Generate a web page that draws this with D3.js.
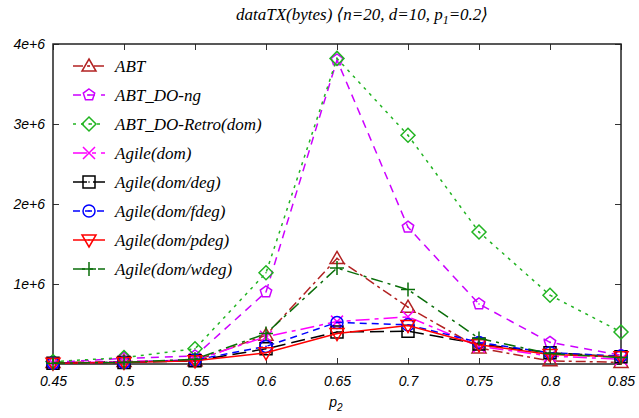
<!DOCTYPE html>
<html><head><meta charset="utf-8">
<script src="https://cdn.jsdelivr.net/npm/d3@7"></script>
<style>
body{margin:0;background:#fff;}
svg{display:block;}
.tick text{font-family:"Liberation Sans","Arimo",Helvetica,Arial,sans-serif;font-style:italic;font-size:14px;fill:#000;}
.serif{font-family:"Liberation Serif","Tinos","Times New Roman",Times,"DejaVu Serif",serif;font-style:italic;}
</style>
</head><body>
<svg id="c" width="639" height="418"></svg>
<script>
const xValues = [0.45,0.5,0.55,0.6,0.65,0.7,0.75,0.8,0.85];
const seriesNames = ["ABT","ABT_DO-ng","ABT_DO-Retro(dom)","Agile(dom)","Agile(dom/deg)","Agile(dom/fdeg)","Agile(dom/pdeg)","Agile(dom/wdeg)"];
const abt       = [20000,30000,40000,360000,1320000,710000,200000,40000,20000];
const abtDoNg   = [20000,70000,100000,900000,3800000,1710000,750000,270000,110000];
const abtRetro  = [30000,80000,190000,1140000,3820000,2860000,1650000,860000,400000];
const agileDom  = [10000,30000,50000,340000,530000,590000,220000,100000,60000];
const agileDeg  = [10000,20000,40000,190000,400000,410000,250000,140000,90000];
const agileFdeg = [10000,20000,50000,220000,520000,490000,270000,140000,100000];
const agilePdeg = [10000,20000,40000,140000,380000,480000,240000,120000,90000];
const agileWdeg = [10000,20000,60000,380000,1200000,930000,320000,130000,80000];
const yTicks = [0,1000000,2000000,3000000,4000000];
const yTickLabels = ["","1e+6","2e+6","3e+6","4e+6"];
const xTickLabels = ["0.45","0.5","0.55","0.6","0.65","0.7","0.75","0.8","0.85"];

const allValues = [abt,abtDoNg,abtRetro,agileDom,agileDeg,agileFdeg,agilePdeg,agileWdeg];
const styles = [
  {color:"#b22222", dash:"10,4,3,4", marker:"triUp"},
  {color:"#cc00ff", dash:"8,6", marker:"pent"},
  {color:"#22b422", dash:"3,5", marker:"diamond"},
  {color:"#ff00ff", dash:"14,5,4,5", marker:"cross"},
  {color:"#000000", dash:"14,6", marker:"square"},
  {color:"#0000ff", dash:"7,5", marker:"circle"},
  {color:"#ff0000", dash:null, marker:"triDown"},
  {color:"#0a6e0a", dash:"12,5,3,5", marker:"plus"}
];

const svg = d3.select("#c");
const L=53, R=621, T=44, B=364;
const x = d3.scalePoint().domain(xValues).range([L,R]);
const y = d3.scaleLinear().domain([0,4000000]).range([B,T]);

// title
const title = svg.append("text").attr("class","serif").attr("x",362).attr("y",20).attr("text-anchor","middle")
  .style("font-size","17px");
title.append("tspan").text("dataTX(bytes) \u27E8n=20, d=10, p");
title.append("tspan").attr("dy",4).style("font-size","12px").text("1");
title.append("tspan").attr("dy",-4).text("=0.2\u27E9");

// axes
const yAxis = d3.axisLeft(y).tickValues(yTicks).tickFormat((d,i)=>yTickLabels[i]).tickSize(-6).tickPadding(8);
const gy = svg.append("g").attr("transform",`translate(${L},0)`).call(yAxis);
const yAxisR = d3.axisRight(y).tickValues(yTicks).tickFormat("").tickSize(-6);
const gyr = svg.append("g").attr("transform",`translate(${R},0)`).call(yAxisR);
const xAxis = d3.axisBottom(x).tickFormat((d,i)=>xTickLabels[i]).tickSize(-6).tickPadding(12);
const gx = svg.append("g").attr("transform",`translate(0,${B})`).call(xAxis);
const xAxisT = d3.axisTop(x).tickFormat("").tickSize(-6);
const gxt = svg.append("g").attr("transform",`translate(0,${T})`).call(xAxisT);
[gy,gyr,gx,gxt].forEach(g=>{g.attr("font-family",null).select(".domain").remove(); g.selectAll(".tick line").attr("stroke","#333").attr("stroke-width",1);});
gy.selectAll(".tick text").attr("dy","0.35em");
svg.append("rect").attr("x",L).attr("y",T).attr("width",R-L).attr("height",B-T)
  .attr("fill","none").attr("stroke","#222").attr("stroke-width",1.5);

// x label
const xl = svg.append("text").attr("x",336).attr("y",407).attr("text-anchor","middle")
  .style("font-family","'Liberation Sans',Arimo,Helvetica,Arial,sans-serif").style("font-style","italic").style("font-size","14px");
xl.append("tspan").text("p");
xl.append("tspan").attr("dy",4).style("font-size","10px").text("2");

function marker(g, type, cx, cy, color){
  const s = 6;
  let d="";
  if(type==="circle"){
    g.append("circle").attr("cx",cx).attr("cy",cy).attr("r",s).attr("fill","none").attr("stroke",color).attr("stroke-width",1.5);
  } else {
    if(type==="triUp") d=`M${cx},${cy-s-1}L${cx+s+1},${cy+s-1}L${cx-s-1},${cy+s-1}Z`;
    else if(type==="triDown") d=`M${cx},${cy+s+1}L${cx+s+1},${cy-s+1}L${cx-s-1},${cy-s+1}Z`;
    else if(type==="pent"){ const pts=d3.range(5).map(i=>{const a=-Math.PI/2+i*2*Math.PI/5;return [cx+s*Math.cos(a),cy+s*Math.sin(a)];}); d="M"+pts.map(q=>q.join(",")).join("L")+"Z"; }
    else if(type==="diamond") d=`M${cx},${cy-s-1}L${cx+s+1},${cy}L${cx},${cy+s+1}L${cx-s-1},${cy}Z`;
    else if(type==="cross") d=`M${cx-s},${cy-s}L${cx+s},${cy+s}M${cx-s},${cy+s}L${cx+s},${cy-s}`;
    else if(type==="plus") d=`M${cx-s-1},${cy}L${cx+s+1},${cy}M${cx},${cy-s-1}L${cx},${cy+s+1}`;
    else if(type==="square") d=`M${cx-s},${cy-s}H${cx+s}V${cy+s}H${cx-s}Z`;
    g.append("path").attr("d",d).attr("fill","none").attr("stroke",color).attr("stroke-width",1.5);
  }
  if(type!=="cross" && type!=="plus") g.append("circle").attr("cx",cx).attr("cy",cy).attr("r",0.8).attr("fill",color);
}

const line = d3.line().x((d,i)=>x(xValues[i])).y(d=>y(d));
const plot = svg.append("g");
allValues.forEach((vals,k)=>{
  const st = styles[k];
  const g = plot.append("g");
  g.append("path").datum(vals).attr("d",line).attr("fill","none").attr("stroke",st.color)
    .attr("stroke-width",1.5).attr("stroke-dasharray",st.dash);
  vals.forEach((v,i)=>marker(g,st.marker,x(xValues[i]),y(v),st.color));
});

// legend
const lg = svg.append("g");
seriesNames.forEach((name,k)=>{
  const st = styles[k];
  const yy = 66 + k*29;
  lg.append("line").attr("x1",73).attr("x2",105).attr("y1",yy).attr("y2",yy)
    .attr("stroke",st.color).attr("stroke-width",1.5).attr("stroke-dasharray",st.dash);
  marker(lg,st.marker,89,yy,st.color);
  lg.append("text").attr("class","serif").attr("x",115).attr("y",yy+6).text(name).style("font-size","17px");
});
</script>
</body></html>
